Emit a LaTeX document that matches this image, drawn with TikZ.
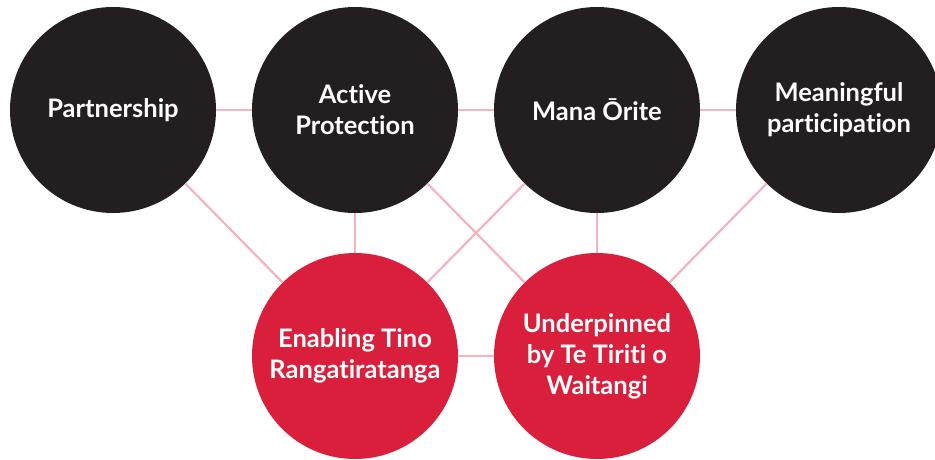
\documentclass[tikz,border=0pt]{standalone}
\usepackage{fontspec}
\setmainfont{Lato}[RawFeature={-liga;-dlig}]
\usetikzlibrary{positioning}
\definecolor{circdark}{HTML}{231F20}
\definecolor{circred}{HTML}{DA1F3D}
\definecolor{linkpink}{HTML}{F4B3BD}
\begin{document}
\begin{tikzpicture}[x=1pt, y=-1pt,
    bubble/.style={circle, minimum size=206pt, inner sep=0pt, text=white,
        font=\bfseries\fontsize{25.5}{31}\selectfont, align=center},
    link/.style={draw=linkpink, line width=2.2pt}]
    \useasboundingbox (0,0) rectangle (935,459);
    \foreach \name/\x/\txt in {
        part/113/Partnership, act/355/Active\\Protection,
        mana/597/Mana Ōrite, mean/839/Meaningful\\participation
    } {
        \node[bubble, fill=circdark] (\name) at (\x,110) {\txt};
    }
    \node[bubble, fill=circred] (ena) at (355,356) {Enabling Tino\\Rangatiratanga};
    \node[bubble, fill=circred] (und) at (597,356) {Underpinned\\by Te Tiriti o\\Waitangi};
    % links between the circles
    \foreach \a/\b in {part/act, act/mana, mana/mean, ena/und,
        part/ena, act/ena, act/und, mana/ena, mana/und, mean/und} {
        \draw[link] (\a) -- (\b);
    }
\end{tikzpicture}
\end{document}
